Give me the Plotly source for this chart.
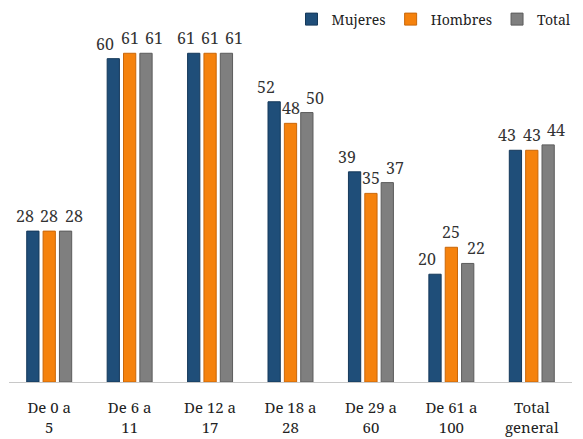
import plotly.graph_objects as go

categories = ["De 0 a<br>5", "De 6 a<br>11", "De 12 a<br>17", "De 18 a<br>28", "De 29 a<br>60", "De 61 a<br>100", "Total<br>general"]
mujeres = [28, 60, 61, 52, 39, 20, 43]
hombres = [28, 61, 61, 48, 35, 25, 43]
total = [28, 61, 61, 50, 37, 22, 44]

series = [
    ("Mujeres", mujeres, "#1F4E79", "#15395a"),
    ("Hombres", hombres, "#F5820D", "#c9670a"),
    ("Total", total, "#7F7F7F", "#5c5c5c"),
]

font_family = "Noto Serif"

W, H = 575, 431
ML, MR, MT, MB = 1, 11, 0, 57
BARGAP = 0.39
LABEL_SPREAD = 8  # extra horizontal spread of value labels (px)

fig = go.Figure()
for name, vals, color, line in series:
    fig.add_trace(go.Bar(
        name=name, x=categories, y=vals,
        marker=dict(color=color, line=dict(color=line, width=1)),
        cliponaxis=False,
    ))

# value labels, spread slightly apart as in the original
slot = (W - ML - MR) / len(categories) * (1 - BARGAP) / len(series)
for i, (name, vals, color, line) in enumerate(series):
    off = (i - 1) * (slot + LABEL_SPREAD)
    for c, v in zip(categories, vals):
        fig.add_annotation(x=c, y=v, xref="x", yref="y", text=str(v),
                           showarrow=False, xanchor="center", yanchor="bottom",
                           xshift=off, yshift=2,
                           font=dict(family=font_family, size=16, color="#333333"))

fig.update_layout(
    width=W, height=H,
    margin=dict(l=ML, r=MR, t=MT, b=MB, autoexpand=False),
    paper_bgcolor="white", plot_bgcolor="white",
    barmode="group", bargap=BARGAP, bargroupgap=0.25,
    font=dict(family=font_family, size=16, color="#222222"),
    showlegend=True,
    legend=dict(orientation="h", x=1.008, xanchor="right", y=1.012, yanchor="top",
                font=dict(family=font_family, size=14, color="#222222"),
                bgcolor="rgba(255,255,255,0)", itemwidth=30, traceorder="normal"),
    xaxis=dict(showline=True, linecolor="#c8c8c8", linewidth=1, ticks="", automargin=False,
               ticklabelstandoff=12,
               tickfont=dict(family=font_family, size=15, color="#222222")),
    yaxis=dict(range=[0, 69.4], visible=False, showgrid=False, automargin=False),
)

fig.write_html("out.html")
